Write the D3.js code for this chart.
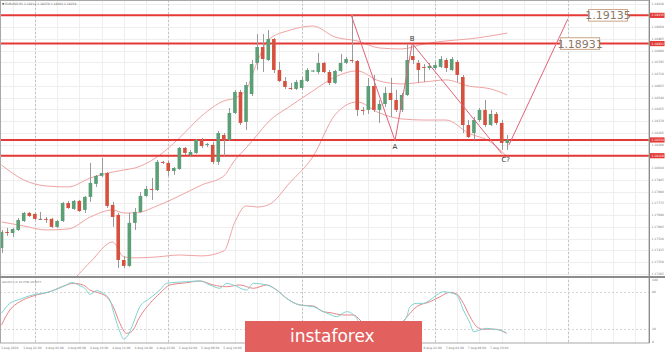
<!DOCTYPE html>
<html>
<head>
<meta charset="utf-8">
<script src="https://cdn.jsdelivr.net/npm/d3@7/dist/d3.min.js"></script>
<style>
  body { margin: 0; background: #fff; }
  svg { display: block; }
  text { font-family: "DejaVu Sans", sans-serif; }
</style>
</head>
<body>
<svg width="665" height="352"></svg>
<script>
// EURUSD H1 candles, 3 Aug 18:00 .. 7 Aug 13:00
const OPEN = [
  1.17453,1.17569,1.17561,1.17583,1.17648,1.17706,1.17699,1.17663,1.17663,1.17663,
  1.17605,1.17648,1.17778,1.17735,1.17793,1.17728,1.17822,1.17916,1.17974,1.17995,
  1.17764,1.17692,1.17366,1.17323,1.17634,1.17713,1.17829,1.17880,1.17872,1.18075,
  1.18068,1.18010,1.18024,1.18176,1.18125,1.18140,1.18234,1.18198,1.18198,1.18075,
  1.18270,1.18234,1.18429,1.18581,1.18364,1.18566,1.18791,1.18906,1.18812,1.18964,
  1.18740,1.18660,1.18610,1.18603,1.18610,1.18660,1.18733,1.18725,1.18791,1.18725,
  1.18646,1.18733,1.18791,1.18812,1.18805,1.18451,1.18451,1.18624,1.18451,1.18494,
  1.18574,1.18523,1.18451,1.18559,1.18841,1.18791,1.18762,1.18754,1.18754,1.18762,
  1.18812,1.18740,1.18798,1.18689,1.18342,1.18284,1.18378,1.18451,1.18342,1.18422,
  1.18357,1.18212
];
const HIGH = [
  1.17583,1.17598,1.17598,1.17670,1.17713,1.17713,1.17706,1.17713,1.17677,1.17670,
  1.17655,1.17786,1.17793,1.17800,1.17800,1.17829,1.18068,1.17981,1.18104,1.18002,
  1.17786,1.17706,1.17395,1.17706,1.17742,1.17858,1.17901,1.17959,1.18089,1.18082,
  1.18082,1.18039,1.18183,1.18183,1.18162,1.18241,1.18248,1.18212,1.18219,1.18299,
  1.18284,1.18465,1.18595,1.18595,1.18653,1.18812,1.19000,1.19000,1.19029,1.18971,
  1.18798,1.18689,1.18646,1.18668,1.18689,1.18754,1.18740,1.18863,1.18798,1.18740,
  1.18740,1.18856,1.18834,1.19138,1.18812,1.18472,1.18682,1.18704,1.18523,1.18617,
  1.18682,1.18595,1.18574,1.18928,1.18928,1.18812,1.18783,1.18791,1.18798,1.18841,
  1.18827,1.18834,1.18812,1.18704,1.18378,1.18400,1.18465,1.18523,1.18451,1.18436,
  1.18378,1.18270
];
const LOW = [
  1.17417,1.17540,1.17532,1.17576,1.17641,1.17677,1.17655,1.17655,1.17634,1.17598,
  1.17598,1.17641,1.17735,1.17728,1.17713,1.17706,1.17786,1.17894,1.17966,1.17742,
  1.17605,1.17308,1.17308,1.17316,1.17583,1.17706,1.17822,1.17800,1.17865,1.18060,
  1.17974,1.17981,1.18017,1.18125,1.18111,1.18133,1.18176,1.18183,1.18060,1.18053,
  1.18118,1.18227,1.18422,1.18342,1.18306,1.18552,1.18740,1.18725,1.18805,1.18718,
  1.18653,1.18603,1.18595,1.18595,1.18595,1.18653,1.18725,1.18711,1.18718,1.18631,
  1.18639,1.18725,1.18783,1.18791,1.18407,1.18415,1.18422,1.18436,1.18357,1.18472,
  1.18400,1.18436,1.18436,1.18552,1.18783,1.18646,1.18653,1.18740,1.18740,1.18754,
  1.18725,1.18733,1.18653,1.18284,1.18248,1.18234,1.18364,1.18328,1.18335,1.18342,
  1.18162,1.18162
];
const CLOSE = [
  1.17569,1.17561,1.17590,1.17655,1.17706,1.17684,1.17663,1.17663,1.17660,1.17605,
  1.17648,1.17778,1.17742,1.17793,1.17720,1.17822,1.17923,1.17974,1.17995,1.17757,
  1.17677,1.17366,1.17323,1.17634,1.17713,1.17829,1.17880,1.17877,1.18075,1.18068,
  1.18010,1.18031,1.18176,1.18140,1.18147,1.18234,1.18190,1.18205,1.18075,1.18284,
  1.18234,1.18429,1.18581,1.18357,1.18631,1.18783,1.18906,1.18819,1.18964,1.18740,
  1.18660,1.18617,1.18607,1.18653,1.18668,1.18740,1.18736,1.18791,1.18725,1.18646,
  1.18733,1.18791,1.18819,1.18805,1.18451,1.18448,1.18624,1.18451,1.18494,1.18574,
  1.18523,1.18451,1.18559,1.18812,1.18812,1.18740,1.18759,1.18769,1.18776,1.18819,
  1.18754,1.18819,1.18704,1.18342,1.18255,1.18378,1.18451,1.18342,1.18422,1.18357,
  1.18212,1.18234
];

// Bollinger bands, at these bar indices
const BB_IDX   = [0,4,8,12,16,20,22,24,28,32,36,40,42,44,46,48,52,56,60,64,68,72,76,80,84,88,91];
const BB_UPPER = [1.18053,1.17945,1.17901,1.17894,1.17959,1.18002,1.18017,1.18031,1.18111,1.18248,1.18407,1.18516,1.18537,1.18595,1.18798,1.18957,1.19029,1.19058,1.18978,1.18950,1.18899,1.18892,1.18928,1.18950,1.18964,1.18986,1.19007];
const BB_MID   = [1.17641,1.17612,1.17583,1.17590,1.17677,1.17728,1.17706,1.17706,1.17757,1.17829,1.17908,1.17974,1.18089,1.18176,1.18270,1.18364,1.18480,1.18588,1.18689,1.18733,1.18660,1.18639,1.18653,1.18668,1.18624,1.18603,1.18559];
const BB_LOWER = [1.17077,1.17091,1.17135,1.17193,1.17352,1.17496,1.17388,1.17381,1.17388,1.17402,1.17395,1.17431,1.17641,1.17757,1.17749,1.17764,1.17930,1.18111,1.18415,1.18509,1.18429,1.18386,1.18378,1.18378,1.18284,1.18219,1.18111];

// Stochastic(5,3,3): [bar index, value]
const STOCH_K = [[0,46],[1.5,62],[3.3,68.6],[5.1,74.5],[8.7,81],[11.7,92],[12.6,96],[14.1,90.7],[15,86.5],[15.9,76.7],[17.1,82.6],[18.3,78.4],[19.5,67.5],[20.4,40.3],[21.3,16],[22,4],[22.8,10.6],[23.7,29.6],[24.9,56.6],[26.7,70.2],[28.5,83.7],[29.7,94.6],[33.3,97.2],[35.7,98.4],[37.5,91.9],[39.3,86.5],[40.5,94.6],[41.7,91.9],[44.1,83.7],[45.3,94.6],[47.7,91.9],[49.5,83.7],[51.3,70.2],[53.7,59.3],[56.1,56.6],[57.3,51.2],[59.1,44],[60.3,40.3],[62.1,48.5],[63.9,37.7],[65,20],[66,8],[68,12],[70,20],[72,30],[72.9,40.3],[73.5,56.6],[74.7,62],[75.9,62],[77.1,67.5],[78.3,75.6],[79.5,81],[80.7,79.4],[81.9,75.6],[83.1,51.2],[84.3,29.6],[84.9,16],[86.1,18.7],[87.3,21.4],[88.5,19.8],[89.7,18.7],[90.9,13.3]];
const STOCH_D = [[0,26.8],[1.5,51.2],[3.3,64.7],[5.7,74],[8.7,81],[11.7,91.9],[12.9,94.6],[14.7,91.9],[15.9,83.7],[17.7,78.4],[18.9,72.8],[20.1,56.6],[21.3,29.6],[22.5,13.3],[23.4,16],[24.9,40.3],[26.7,62],[28.5,78.4],[30.3,91.9],[33.3,95.6],[35.7,98.4],[38.1,91.9],[40.5,89.1],[42.9,91.9],[45.3,86.5],[47.7,91.9],[49.5,83.7],[51.3,70.2],[53.7,59.3],[56.1,57.7],[57.9,48.5],[59.1,47],[61.5,43.1],[63.3,43.1],[64.5,35],[66,18],[68,10],[70,15],[72,30],[73.5,45.9],[74.7,56.6],[77.1,64.7],[78.9,72.8],[80.7,80],[81.9,77.2],[83.1,62],[84.3,40.3],[85.5,24.1],[86.7,19.8],[87.9,20.3],[89.1,19.8],[90.3,16],[90.9,13.3]];
const STOCH_LEVELS = [80, 20];
const STOCH_TICKS = [100, 80, 20, 0];

// horizontal levels and their targets
const LEVELS = [1.19135, 1.18931, 1.18234, 1.18120];
const TARGETS = [1.19135, 1.18931];
const TARGET_IDX = [105.6, 100.6];

// A-B-C drawing and projection
const WAVE = [[62.9,1.19138],[70.8,1.18229],[73.9,1.18931],[90,1.18136]];
const WAVE_NAMES = ["", "A", "B", "C?"];
const PROJECTION = [[91.3,1.18198],[101.9,1.19109]];

const PRICE_TICKS = [1.19220,1.19135,1.19050,1.18965,1.18880,1.18795,1.18710,1.18625,1.18540,1.18455,1.18370,1.18285,1.18200,1.18115,1.18030,1.17945,1.17860,1.17775,1.17690,1.17605,1.17520,1.17435,1.17350,1.17265];
const TIME_LABELS = ["3 Aug 2020","3 Aug 22:00","4 Aug 02:00","4 Aug 06:00","4 Aug 10:00","4 Aug 14:00","4 Aug 18:00","4 Aug 22:00","5 Aug 02:00","5 Aug 06:00","5 Aug 10:00","5 Aug 14:00","5 Aug 18:00","5 Aug 22:00","6 Aug 02:00","6 Aug 06:00","6 Aug 10:00","6 Aug 14:00","6 Aug 18:00","6 Aug 22:00","7 Aug 02:00","7 Aug 06:00","7 Aug 10:00"];
const DAY_IDX = [6, 30, 54, 78, 102];

const
  W = 665, H = 352,
  RIGHT = 649, MAIN_BOTTOM = 276, SUB_TOP = 278, SUB_BOTTOM = 343,
  GREEN = "#5b9f76", RED = "#d6513d", BAND = "#f0a3a3", LEVEL = "#e43a37", WAVE_COLOR = "#e0627a";

const x = d3.scaleLinear().domain([0, 116.5]).range([1.5, RIGHT]);
const y = d3.scaleLinear().domain([1.17250, 1.19246]).range([MAIN_BOTTOM, 0]);
const ys = d3.scaleLinear().domain([0, 100]).range([341.5, 280]);

const svg = d3.select("svg");
svg.append("rect").attr("width", W).attr("height", H).attr("fill", "#fff");

const defs = svg.append("defs");
defs.append("clipPath").attr("id", "clip-main")
  .append("rect").attr("x", 0).attr("y", 0).attr("width", RIGHT).attr("height", MAIN_BOTTOM);
defs.append("clipPath").attr("id", "clip-sub")
  .append("rect").attr("x", 0).attr("y", SUB_TOP).attr("width", RIGHT).attr("height", SUB_BOTTOM - SUB_TOP);

// Grid
const grid = svg.append("g");
grid.selectAll(".hg").data(PRICE_TICKS).enter().append("line")
  .attr("x1", 0).attr("x2", RIGHT)
  .attr("y1", d => Math.round(y(d)) + 0.5).attr("y2", d => Math.round(y(d)) + 0.5)
  .attr("stroke", "#eeeeee");
grid.selectAll(".vg").data(d3.range(2, 117, 4)).enter().append("line")
  .attr("x1", d => Math.round(x(d)) + 0.5).attr("x2", d => Math.round(x(d)) + 0.5)
  .attr("y1", 0).attr("y2", SUB_BOTTOM)
  .attr("stroke", "#efefef");
grid.selectAll(".dg").data(DAY_IDX).enter().append("line")
  .attr("x1", d => Math.round(x(d)) + 0.5).attr("x2", d => Math.round(x(d)) + 0.5)
  .attr("y1", 0).attr("y2", SUB_BOTTOM)
  .attr("stroke", "#c3c3c3").attr("stroke-dasharray", "2,2");
grid.selectAll(".sl").data(STOCH_LEVELS).enter().append("line")
  .attr("x1", 0).attr("x2", RIGHT)
  .attr("y1", d => Math.round(ys(d)) + 0.5).attr("y2", d => Math.round(ys(d)) + 0.5)
  .attr("stroke", "#d6d6d6").attr("stroke-dasharray", "2,2");

// Bollinger bands
const main = svg.append("g").attr("clip-path", "url(#clip-main)");
const bandLine = d3.line().x(d => x(d[0])).y(d => y(d[1])).curve(d3.curveMonotoneX);
[BB_UPPER, BB_MID, BB_LOWER].forEach(band => {
  main.append("path")
    .attr("d", bandLine(BB_IDX.map((i, k) => [i, band[k]])))
    .attr("fill", "none").attr("stroke", BAND).attr("stroke-width", 1);
});

// Levels
main.selectAll(".lvl").data(LEVELS).enter().append("line")
  .attr("x1", 0).attr("x2", RIGHT)
  .attr("y1", d => y(d)).attr("y2", d => y(d))
  .attr("stroke", LEVEL).attr("stroke-width", 2);

// Candles
const candles = OPEN.map((o, i) => ({i, o, h: HIGH[i], l: LOW[i], c: CLOSE[i]}));
const cg = main.selectAll(".candle").data(candles).enter().append("g");
cg.append("line")
  .attr("x1", d => Math.round(x(d.i)) + 0.5).attr("x2", d => Math.round(x(d.i)) + 0.5)
  .attr("y1", d => y(d.h)).attr("y2", d => y(d.l))
  .attr("stroke", "#9a9a9a").attr("stroke-width", 1);
cg.append("rect")
  .attr("x", d => x(d.i) - 1.8)
  .attr("width", 3.6)
  .attr("y", d => y(Math.max(d.o, d.c)))
  .attr("height", d => Math.max(1, Math.abs(y(d.o) - y(d.c))))
  .attr("fill", d => d.c > d.o ? GREEN : d.c < d.o ? RED : "#777");

// A-B-C pattern
const straight = d3.line().x(d => x(d[0])).y(d => y(d[1]));
main.append("path").attr("d", straight(WAVE))
  .attr("fill", "none").attr("stroke", WAVE_COLOR).attr("stroke-width", 1);
main.append("path").attr("d", straight(PROJECTION))
  .attr("fill", "none").attr("stroke", WAVE_COLOR).attr("stroke-width", 1);
WAVE.forEach((p, k) => {
  if (!WAVE_NAMES[k]) return;
  const below = k !== 2;
  main.append("text")
    .attr("x", x(p[0]) + (k === 3 ? 4 : 0))
    .attr("y", y(p[1]) + (below ? 8.5 : -3))
    .attr("text-anchor", "middle")
    .attr("font-size", 7).attr("fill", "#333")
    .text(WAVE_NAMES[k]);
});

// Target boxes
TARGETS.forEach((t, k) => {
  const g = svg.append("g").attr("transform", `translate(${x(TARGET_IDX[k])},${y(t)})`);
  g.append("rect").attr("x", 0).attr("y", -5.8).attr("width", 39).attr("height", 11.6)
    .attr("fill", "#fff").attr("stroke", "#c9a584").attr("stroke-width", 1);
  g.append("text").attr("x", 19.5).attr("y", 4).attr("text-anchor", "middle")
    .attr("font-family", "Liberation Sans, Arial, sans-serif")
    .attr("font-size", 11).attr("fill", "#8a7867").text(d3.format(".5f")(t));
});

// Stochastic
const sub = svg.append("g").attr("clip-path", "url(#clip-sub)");
const stochLine = d3.line().x(d => x(d[0])).y(d => ys(d[1])).curve(d3.curveMonotoneX);
sub.append("path").attr("d", stochLine(STOCH_D))
  .attr("fill", "none").attr("stroke", "#e98585").attr("stroke-width", 1);
sub.append("path").attr("d", stochLine(STOCH_K))
  .attr("fill", "none").attr("stroke", "#7fd3d3").attr("stroke-width", 1);

// Frame and separators
svg.append("rect").attr("x", 0.5).attr("y", 0.5).attr("width", RIGHT - 0.5).attr("height", SUB_BOTTOM - 0.5)
  .attr("fill", "none").attr("stroke", "#a8a8a8");
svg.append("line").attr("x1", 0).attr("x2", W).attr("y1", 277).attr("y2", 277)
  .attr("stroke", "#8c8c8c").attr("stroke-width", 2);
svg.append("line").attr("x1", RIGHT + 0.5).attr("x2", RIGHT + 0.5).attr("y1", 0).attr("y2", SUB_BOTTOM)
  .attr("stroke", "#8c8c8c");

// Right price axis
svg.selectAll(".pt").data(PRICE_TICKS).enter().append("text")
  .attr("x", RIGHT + 2.5).attr("y", d => y(d) + 1)
  .attr("font-size", 3).attr("fill", "#777")
  .text(d => d3.format(".5f")(d));
LEVELS.forEach(l => {
  svg.append("rect").attr("x", RIGHT + 1).attr("y", y(l) - 2.6).attr("width", 14.5).attr("height", 5.2)
    .attr("fill", LEVEL);
  svg.append("text").attr("x", RIGHT + 2.5).attr("y", y(l) + 1.1)
    .attr("font-size", 3).attr("fill", "#fff").text(d3.format(".5f")(l));
});
svg.selectAll(".st").data(STOCH_TICKS).enter().append("text")
  .attr("x", RIGHT + 3).attr("y", d => ys(d) + 1)
  .attr("font-size", 3).attr("fill", "#777").text(d => d);

// Time axis
svg.selectAll(".tl").data(TIME_LABELS).enter().append("text")
  .attr("x", (d, k) => x(k * 4) - 0.5).attr("y", 348.5)
  .attr("font-size", 3).attr("fill", "#777").text(d => d);

// Titles
const last = candles[candles.length - 1];
svg.append("text").attr("x", 2).attr("y", 5)
  .attr("font-size", 3).attr("fill", "#666")
  .text(`▼ EURUSD,H1  ${[last.o, last.h, last.l, last.c].map(d3.format(".5f")).join(" ")}`);
svg.append("text").attr("x", 2).attr("y", 282.5)
  .attr("font-size", 2.6).attr("fill", "#666")
  .text("Stoch(5,3,3) 15.2791 19.0377");

// Banner
svg.append("rect").attr("x", 245).attr("y", 321).attr("width", 177).attr("height", 31)
  .attr("fill", "#e2615f");
svg.append("text").attr("x", 290).attr("y", 342)
  .attr("font-family", "Open Sans, sans-serif").attr("font-size", 17).attr("fill", "#fff")
  .text("instaforex");
</script>
</body>
</html>
